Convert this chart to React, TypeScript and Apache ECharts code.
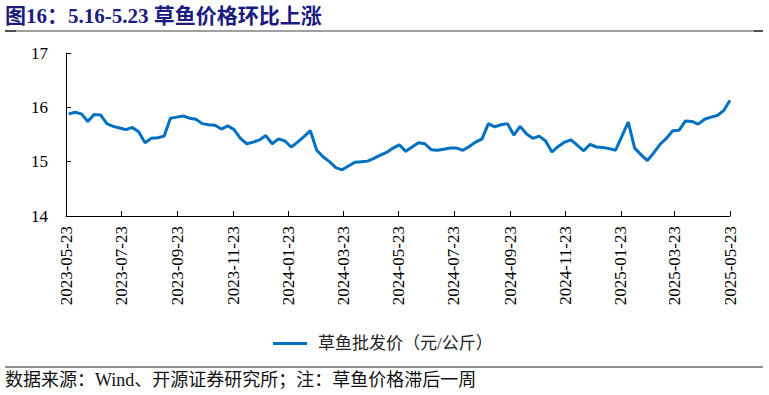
import React, { useEffect, useRef } from "react";
import * as echarts from "echarts";

const firstDate = [2023, 5, 26];
const prices = [
  15.88, 15.91, 15.88, 15.74, 15.87, 15.86, 15.7, 15.65, 15.62, 15.59,
  15.63, 15.55, 15.35, 15.43, 15.44, 15.47, 15.8, 15.82, 15.84, 15.8,
  15.78, 15.7, 15.68, 15.67, 15.6, 15.66, 15.59, 15.43, 15.33, 15.36,
  15.4, 15.48, 15.33, 15.42, 15.38, 15.27, 15.36, 15.46, 15.57, 15.21,
  15.09, 15.0, 14.89, 14.85, 14.92, 14.99, 15.0, 15.01, 15.06, 15.12,
  15.17, 15.25, 15.31, 15.19, 15.27, 15.35, 15.33, 15.22, 15.21, 15.23,
  15.25, 15.25, 15.21, 15.28, 15.36, 15.42, 15.7, 15.64, 15.68, 15.7,
  15.49, 15.65, 15.51, 15.43, 15.47, 15.38, 15.18, 15.28, 15.36, 15.4,
  15.3, 15.2, 15.32, 15.27, 15.26, 15.24, 15.21, 15.47, 15.73, 15.25,
  15.13, 15.02, 15.16, 15.32, 15.43, 15.57, 15.58, 15.75, 15.74, 15.69,
  15.78, 15.82, 15.85, 15.94, 16.13,
];
const tickDates = [
  "2023-05-23", "2023-07-23", "2023-09-23", "2023-11-23", "2024-01-23",
  "2024-03-23", "2024-05-23", "2024-07-23", "2024-09-23", "2024-11-23",
  "2025-01-23", "2025-03-23", "2025-05-23",
];
const yTicks = [14, 15, 16, 17];
const seriesName = "草鱼批发价（元/公斤）";
const titleText = "图16：5.16-5.23 草鱼价格环比上涨";
const sourceText = "数据来源：Wind、开源证券研究所；注：草鱼价格滞后一周";

const toTs = (s: string) => {
  const [y, m, d] = s.split("-").map(Number);
  return Date.UTC(y, m - 1, d);
};
const pad = (n: number) => (n < 10 ? "0" + n : "" + n);
const fmt = (v: number) => {
  const d = new Date(v);
  return `${d.getUTCFullYear()}-${pad(d.getUTCMonth() + 1)}-${pad(d.getUTCDate())}`;
};

export default function App() {
  const ref = useRef<HTMLDivElement>(null);
  useEffect(() => {
    if (!ref.current) return;
    const chart = echarts.init(ref.current, null, { renderer: "svg" });
    const start = Date.UTC(firstDate[0], firstDate[1] - 1, firstDate[2]);
    const data = prices.map((p, i) => [start + 7 * i * 86400000, p]);
    const ticks = tickDates.map(toTs);
    const serif = "'Liberation Serif', 'Times New Roman', 'Noto Sans CJK SC', serif";
    chart.setOption({
      animation: false,
      grid: { left: 66, right: 39, top: 53, bottom: 179, containLabel: false },
      legend: {
        left: 268,
        top: 330,
        icon: "rect",
        itemWidth: 34,
        itemHeight: 3,
        itemGap: 10,
        data: [seriesName],
        textStyle: { fontSize: 17, color: "#222", fontFamily: serif, padding: [0, 0, 0, 6] },
      },
      xAxis: {
        type: "value",
        min: ticks[0],
        max: ticks[ticks.length - 1],
        scale: true,
        axisLine: { show: true, lineStyle: { color: "#000", width: 1 } },
        axisTick: { show: true, inside: true, length: 5, customValues: ticks, lineStyle: { color: "#000" } },
        axisLabel: {
          customValues: ticks,
          rotate: 90,
          margin: 10,
          fontSize: 17,
          color: "#000",
          fontFamily: serif,
          formatter: (v: number) => fmt(v),
        },
        splitLine: { show: false },
      },
      yAxis: {
        type: "value",
        min: yTicks[0],
        max: yTicks[yTicks.length - 1],
        interval: 1,
        axisLine: { show: true, lineStyle: { color: "#000", width: 1 } },
        axisTick: { show: true, inside: true, length: 5, lineStyle: { color: "#000" } },
        axisLabel: { fontSize: 17, color: "#000", margin: 18, fontFamily: serif },
        splitLine: { show: false },
      },
      series: [
        {
          name: seriesName,
          type: "line",
          data,
          showSymbol: false,
          symbol: "none",
          lineStyle: { color: "#0070C0", width: 3 },
          itemStyle: { color: "#0070C0" },
        },
      ],
      graphic: [
        {
          type: "text",
          left: 5,
          top: 5,
          style: {
            text: titleText,
            fontSize: 21,
            fontWeight: "bold",
            fill: "#1b1b80",
            fontFamily: serif,
          },
        },
        { type: "line", shape: { x1: 5, y1: 31, x2: 763, y2: 31 }, style: { stroke: "#808080", lineWidth: 1.5 } },
        { type: "line", shape: { x1: 5, y1: 31, x2: 16, y2: 31 }, style: { stroke: "#333", lineWidth: 1.5 } },
        { type: "line", shape: { x1: 754, y1: 31, x2: 763, y2: 31 }, style: { stroke: "#333", lineWidth: 1.5 } },
        { type: "line", shape: { x1: 5, y1: 367, x2: 763, y2: 367 }, style: { stroke: "#222", lineWidth: 1 } },
        {
          type: "text",
          left: 5,
          top: 371,
          style: { text: sourceText, fontSize: 18, fill: "#111", fontFamily: serif },
        },
      ],
    });
    return () => chart.dispose();
  }, []);
  return (
    <div
      ref={ref}
      style={{ position: "fixed", left: 0, top: 0, width: 769, height: 395, background: "#fff" }}
    />
  );
}
